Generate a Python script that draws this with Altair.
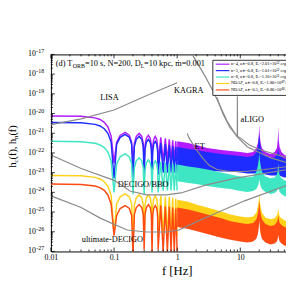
import altair as alt
import pandas as pd

# ---------------- data (log10 of characteristic strain) ----------------
f_lobe = [0.01, 0.03, 0.05, 0.06, 0.07, 0.08, 0.09, 0.1,
          0.11, 0.125, 0.15, 0.175, 0.19, 0.2,
          0.21, 0.225, 0.25, 0.275, 0.29, 0.3,
          0.31, 0.325, 0.35, 0.375, 0.39, 0.4,
          0.41, 0.425, 0.45, 0.475, 0.49, 0.5,
          0.55, 0.6, 0.65, 0.7, 0.75, 0.8, 0.85, 0.9, 0.95, 1.0]

lg_n4_lobe = [-20.12, -20.14, -20.22, -20.30, -20.45, -20.68, -21.15, -22.5,
              -21.46, -21.11, -20.96, -21.11, -21.46, -22.5,
              -21.51, -21.16, -21.01, -21.16, -21.51, -22.5,
              -21.61, -21.26, -21.11, -21.26, -21.61, -22.5,
              -21.66, -21.31, -21.16, -21.31, -21.66, -22.5,
              -21.21, -22.4, -21.26, -22.4, -21.31, -22.4, -21.36, -22.4, -21.41, -22.4]
lg_n5_lobe = [-20.45, -20.47, -20.55, -20.63, -20.77, -21.00, -21.45, -23.3,
              -21.56, -21.21, -21.06, -21.21, -21.56, -23.3,
              -21.66, -21.31, -21.16, -21.31, -21.66, -23.2,
              -21.81, -21.46, -21.31, -21.46, -21.81, -23.2,
              -21.91, -21.56, -21.41, -21.56, -21.91, -23.1,
              -21.50, -23.0, -21.55, -23.0, -21.60, -23.0, -21.65, -23.0, -21.70, -23.0]
lg_n8_lobe = [-21.41, -21.43, -21.51, -21.59, -21.73, -21.96, -22.42, -24.0,
              -22.55, -22.20, -22.05, -22.20, -22.55, -24.1,
              -22.75, -22.40, -22.25, -22.40, -22.75, -24.1,
              -22.85, -22.50, -22.35, -22.50, -22.85, -24.0,
              -22.90, -22.55, -22.40, -22.55, -22.90, -24.0,
              -22.45, -23.9, -22.50, -23.9, -22.54, -23.9, -22.54, -23.9, -22.59, -23.9]
lg_nd8_lobe = [-23.14, -23.16, -23.24, -23.32, -23.46, -23.69, -24.15, -26.1,
               -24.58, -24.23, -24.08, -24.23, -24.58, -26.5,
               -24.63, -24.28, -24.13, -24.28, -24.63, -26.4,
               -24.63, -24.28, -24.13, -24.28, -24.63, -26.3,
               -24.68, -24.33, -24.18, -24.33, -24.68, -26.3,
               -24.18, -26.2, -24.23, -26.2, -24.23, -26.2, -24.28, -26.2, -24.33, -26.2]
lg_nd5_lobe = [-23.58, -23.60, -23.68, -23.76, -23.90, -24.13, -24.60, -26.2,
               -25.17, -24.82, -24.67, -24.82, -25.17, -27.2,
               -25.12, -24.77, -24.62, -24.77, -25.12, -26.9,
               -25.12, -24.77, -24.62, -24.77, -25.12, -27.1,
               -25.17, -24.82, -24.67, -24.82, -25.17, -26.9,
               -24.67, -27.0, -24.72, -27.0, -24.72, -27.0, -24.77, -27.0, -24.82, -27.0]

# dense high-frequency part: upper / lower envelope of the oscillation
f_band = [1.0, 1.5, 2, 3, 5, 7, 10, 13, 16, 18, 19, 19.6, 20, 20.4, 21, 22, 25,
          30, 35, 38, 39.2, 40, 40.8, 42, 45, 50, 56]
lg_n4_top = [-21.41, -21.50, -21.60, -21.75, -21.85, -21.90, -21.95, -22.00, -21.95, -21.75, -21.50, -21.11, -20.61,
             -21.11, -21.50, -21.75, -21.95, -22.05, -21.95, -21.75, -21.36, -20.71, -21.36, -21.70, -21.95, -22.10, -22.15]
lg_n4_bot = [-22.35, -22.35, -22.40, -22.45, -22.50, -22.50, -22.54, -22.54, -22.54, -22.50, -22.40, -22.25, -22.10,
             -22.25, -22.40, -22.50, -22.54, -22.59, -22.59, -22.54, -22.45, -22.35, -22.45, -22.54, -22.59, -22.64, -22.64]
lg_n5_top = [-21.70, -21.80, -21.85, -21.95, -22.05, -22.10, -22.15, -22.20, -22.15, -21.95, -21.70, -21.36, -21.01,
             -21.36, -21.70, -21.95, -22.15, -22.25, -22.20, -22.10, -21.95, -21.75, -21.95, -22.10, -22.20, -22.30, -22.35]
lg_n5_bot = [-22.74, -22.79, -22.84, -22.89, -22.94, -22.94, -22.99, -23.04, -23.04, -23.04, -22.99, -22.94, -22.89,
             -22.94, -22.99, -23.04, -23.09, -23.14, -23.14, -23.14, -23.09, -23.04, -23.09, -23.14, -23.19, -23.24, -23.24]
lg_n8_top = [-22.59, -22.69, -22.74, -22.84, -22.99, -23.09, -23.19, -23.24, -23.19, -22.94, -22.64, -22.35, -22.00,
             -22.35, -22.64, -22.94, -23.19, -23.29, -23.24, -23.09, -22.89, -22.50, -22.89, -23.14, -23.29, -23.39, -23.44]
lg_n8_bot = [-23.44, -23.53, -23.58, -23.68, -23.78, -23.83, -23.93, -23.98, -23.93, -23.83, -23.68, -23.53, -23.34,
             -23.53, -23.68, -23.83, -23.98, -24.08, -24.03, -23.93, -23.83, -23.73, -23.83, -23.98, -24.08, -24.18, -24.23]
lg_nd8_top = [-24.38, -24.48, -24.62, -24.77, -24.97, -25.12, -25.22, -25.27, -25.22, -25.02, -24.72, -24.43, -24.08,
              -24.43, -24.72, -25.02, -25.27, -25.37, -25.32, -25.17, -25.02, -24.82, -25.02, -25.22, -25.32, -25.42, -25.47]
lg_nd8_bot = [-24.97, -25.07, -25.22, -25.37, -25.56, -25.66, -25.76, -25.81, -25.76, -25.61, -25.32, -25.02, -24.67,
              -25.02, -25.32, -25.61, -25.81, -25.91, -25.86, -25.76, -25.61, -25.42, -25.61, -25.76, -25.86, -25.96, -26.01]
lg_nd5_top = [-24.77, -24.87, -24.97, -25.12, -25.32, -25.47, -25.56, -25.61, -25.56, -25.37, -25.07, -24.77, -24.43,
              -24.77, -25.07, -25.37, -25.61, -25.71, -25.66, -25.51, -25.37, -25.17, -25.37, -25.56, -25.66, -25.76, -25.81]
lg_nd5_bot = [-25.76, -25.86, -25.96, -26.11, -26.31, -26.41, -26.50, -26.55, -26.50, -26.36, -26.11, -25.81, -25.42,
              -25.81, -26.11, -26.36, -26.55, -26.65, -26.60, -26.50, -26.36, -26.16, -26.36, -26.50, -26.60, -26.70, -26.75]

series_names = ["n=4, a\u2217=0.8, E\u1d63=2.01\u00d710\u2075\u00b2 erg",
                "n=5, a\u2217=0.8, E\u1d63=1.01\u00d710\u2075\u00b2 erg",
                "n=8, a\u2217=0.8, E\u1d63=1.10\u00d710\u2075\u00b9 erg",
                "NDAF, a\u2217=0.8, E\u1d63=1.80\u00d710\u2074\u2079 erg",
                "NDAF, a\u2217=0.5, E\u1d63=8.86\u00d710\u2074\u2078 erg"]
series_colors = ["#b21cff", "#1f2cff", "#3ee6c4", "#ffd21a", "#ff4a12"]

# detector sensitivity curves
lisa_f = [0.01, 0.03, 0.1, 0.33, 1.0]
lisa_lg = [-20.56, -20.27, -19.82, -19.08, -18.44]
kagra_f = [1.6, 1.77, 2.81, 3.73, 4.79, 6.14, 8.77, 13.0, 30.5, 56]
kagra_lg = [-16.7, -17.05, -18.14, -18.88, -19.62, -20.37, -21.16, -21.70, -22.25, -22.50]
aligo_f = [4.3, 4.46, 5.33, 6.84, 8.46, 8.95, 9.0, 9.05, 9.7, 13.9, 21.3, 56]
aligo_lg = [-19.18, -19.38, -20.02, -20.71, -21.06, -21.13, -19.13, -21.16, -21.21, -21.60, -21.85, -22.25]
et_f = [1.45, 1.53, 1.97, 2.52, 3.24, 4.3, 6.84, 11.7, 23.8, 56]
et_lg = [-21.01, -21.21, -21.80, -22.25, -22.64, -22.84, -22.94, -22.94, -22.84, -22.69]
decigo_f = [0.01, 0.0301, 0.1, 0.179, 0.328, 0.676, 1.15, 2.81, 8.17, 56]
decigo_lg = [-22.10, -22.79, -23.39, -23.93, -24.13, -24.13, -24.03, -23.63, -23.29, -22.84]
udecigo_f = [0.01, 0.0301, 0.0614, 0.161, 0.328, 0.676, 1.07, 1.97, 4.0, 11.7, 56]
udecigo_lg = [-24.18, -24.77, -25.32, -25.91, -26.01, -26.01, -25.91, -25.51, -25.07, -24.43, -23.63]

det_labels = ["LISA", "KAGRA", "aLIGO", "ET", "DECIGO/BBO", "ultimate-DECIGO"]
det_label_f = [0.0845, 1.53, 15.5, 2.27, 0.289, 0.094]
det_label_lg = [-19.18, -18.83, -20.27, -21.65, -23.58, -26.36]

x_major = [0.01, 0.1, 1, 10]
x_minor = [0.02, 0.03, 0.04, 0.05, 0.06, 0.07, 0.08, 0.09,
           0.2, 0.3, 0.4, 0.5, 0.6, 0.7, 0.8, 0.9,
           2, 3, 4, 5, 6, 7, 8, 9, 20, 30, 40, 50]
y_exp = [-17, -18, -19, -20, -21, -22, -23, -24, -25, -26, -27]
y_minor_mult = [2, 3, 4, 5, 6, 7, 8, 9]

# ---------------- chart ----------------
SERIF = "Liberation Serif"
XS = alt.Scale(type="log", domain=[0.01, 53])
YS = alt.Scale(type="log", domain=[1e-27, 1e-17])
XAX = alt.Axis(values=x_major, format="~g", labelFont=SERIF, labelFontSize=8, labelColor="black",
               ticks=False, domain=False, grid=False, labelPadding=2, labelFlush=False,
               title="f [Hz]", titleFont=SERIF, titleFontSize=13, titleFontWeight="normal",
               titleColor="black", titleX=129, titleY=24, titleBaseline="alphabetic", titleAlign="center")


def X(field="f"):
    return alt.X(f"{field}:Q", scale=XS, axis=XAX)


def Y(field="h"):
    return alt.Y(f"{field}:Q", scale=YS, axis=None)


layers = []
lobe_sets = [lg_n4_lobe, lg_n5_lobe, lg_n8_lobe, lg_nd8_lobe, lg_nd5_lobe]
band_sets = [(lg_n4_top, lg_n4_bot), (lg_n5_top, lg_n5_bot), (lg_n8_top, lg_n8_bot),
             (lg_nd8_top, lg_nd8_bot), (lg_nd5_top, lg_nd5_bot)]
for lobe, (top, bot), col in zip(lobe_sets, band_sets, series_colors):
    dfl = pd.DataFrame({"f": f_lobe, "h": [10.0 ** v for v in lobe]})
    layers.append(alt.Chart(dfl).mark_line(color=col, strokeWidth=1.5, clip=True)
                  .encode(x=X(), y=Y()))
    dfb = pd.DataFrame({"f": f_band, "top": [10.0 ** v for v in top], "bot": [10.0 ** v for v in bot]})
    layers.append(alt.Chart(dfb).mark_area(color=col, opacity=1, clip=True)
                  .encode(x=X(), y=Y("top"), y2="bot:Q"))

for fs, lgs in [(lisa_f, lisa_lg), (kagra_f, kagra_lg), (aligo_f, aligo_lg), (et_f, et_lg),
                (decigo_f, decigo_lg), (udecigo_f, udecigo_lg)]:
    d = pd.DataFrame({"f": fs, "h": [10.0 ** v for v in lgs]})
    layers.append(alt.Chart(d).mark_line(color="#8a8a8a", strokeWidth=1.2, clip=True)
                  .encode(x=X(), y=Y()))

lab = pd.DataFrame({"f": det_label_f, "h": [10.0 ** v for v in det_label_lg], "t": det_labels})
layers.append(alt.Chart(lab).mark_text(font=SERIF, fontSize=8.5, color="black", baseline="middle")
              .encode(x=X(), y=Y(), text="t:N"))

# inward ticks
xt_major = pd.DataFrame({"f": x_major})
xt_minor = pd.DataFrame({"f": x_minor})
for d, ln in [(xt_major, 4), (xt_minor, 2)]:
    layers.append(alt.Chart(d).mark_rule(color="black", strokeWidth=0.8)
                  .encode(x=X(), y=alt.value(202), y2=alt.value(202 - ln)))
    layers.append(alt.Chart(d).mark_rule(color="black", strokeWidth=0.8)
                  .encode(x=X(), y=alt.value(0), y2=alt.value(ln)))
yt_major = pd.DataFrame({"h": [10.0 ** e for e in y_exp]})
yt_minor = pd.DataFrame({"h": [m * 10.0 ** e for e in y_exp[1:] for m in y_minor_mult]})
for d, ln in [(yt_major, 4), (yt_minor, 2)]:
    layers.append(alt.Chart(d).mark_rule(color="black", strokeWidth=0.8)
                  .encode(y=Y(), x=alt.value(0), x2=alt.value(ln)))

# y tick labels 10^n
ylab = pd.DataFrame({"h": [10.0 ** e for e in y_exp], "b": ["10"] * len(y_exp),
                     "e": [str(e) for e in y_exp]})
layers.append(alt.Chart(ylab).mark_text(font=SERIF, fontSize=8, align="right", baseline="middle", color="black")
              .encode(y=Y(), x=alt.value(-15.5), text="b:N"))
layers.append(alt.Chart(ylab).mark_text(font=SERIF, fontSize=6, align="left", baseline="middle", dy=-3,
                                        color="black")
              .encode(y=Y(), x=alt.value(-15), text="e:N"))

# y-axis title  h_c(f), h_n(f)
one = pd.DataFrame({"k": [0]})
for txt, fsz, xx, yy in [("h", 10.5, -36, 116), ("c", 7, -34, 110.75), ("(f), h", 10.5, -36, 107.65),
                         ("n", 7, -34, 86.65), ("(f)", 10.5, -36, 83.15)]:
    layers.append(alt.Chart(one).mark_text(text=txt, font=SERIF, fontSize=fsz, angle=270, align="left",
                                           baseline="alphabetic", color="black")
                  .encode(x=alt.value(xx), y=alt.value(yy)))

# annotation
for txt, fsz, xx, yy in [("(d) T", 8.5, 5, 12), ("ORB", 6, 22.5, 14), ("=10 s, N=200, D", 8.5, 35, 12),
                         ("L", 6, 92, 14), ("=10 kpc, \u1e41=0.001", 8.5, 95.5, 12)]:
    layers.append(alt.Chart(one).mark_text(text=txt, font=SERIF, fontSize=fsz, align="left",
                                           baseline="alphabetic", color="black")
                  .encode(x=alt.value(xx), y=alt.value(yy)))

# legend box
layers.append(alt.Chart(one).mark_rect(fill="white", stroke="black", strokeWidth=0.8)
              .encode(x=alt.value(166), x2=alt.value(262), y=alt.value(6), y2=alt.value(42)))
for i, (name, col) in enumerate(zip(series_names, series_colors)):
    yy = 10 + i * 6.6
    layers.append(alt.Chart(one).mark_rule(color=col, strokeWidth=1.2)
                  .encode(x=alt.value(169), x2=alt.value(183), y=alt.value(yy)))
    layers.append(alt.Chart(one).mark_text(text=name, font=SERIF, fontSize=4.6, align="left",
                                           baseline="middle", color="black")
                  .encode(x=alt.value(184.5), y=alt.value(yy)))

chart = alt.layer(*layers).properties(
    width=241, height=202,
    padding={"left": 44, "top": 44, "right": 0, "bottom": 40},
    autosize=alt.AutoSizeParams(type="none"),
    background="white",
).configure_view(stroke="black", strokeWidth=1)

chart.save("out.html", embed_options={"renderer": "svg", "actions": False})
